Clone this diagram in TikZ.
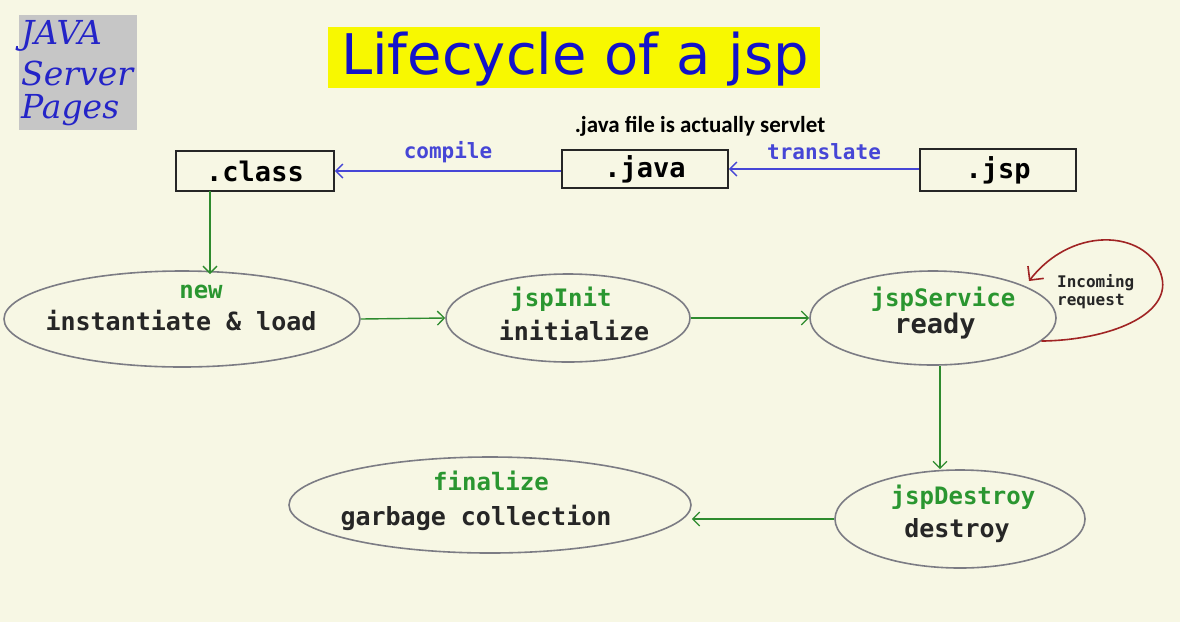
\documentclass[tikz,border=0pt]{standalone}
\usepackage{fontspec}
\setmainfont{DejaVu Sans}
\newfontfamily\monof{DejaVu Sans Mono}
\newfontfamily\calib{Carlito}
\newfontfamily\handf{DejaVu Serif}
\usetikzlibrary{shapes.geometric,arrows.meta}
\definecolor{bgc}{HTML}{F7F7E4}
\definecolor{titleblue}{HTML}{1212C8}
\definecolor{ttl}{HTML}{F8F800}
\definecolor{arrblue}{HTML}{4646D6}
\definecolor{arrgreen}{HTML}{2E8B2E}
\definecolor{txtgreen}{HTML}{2A9630}
\definecolor{ellgray}{HTML}{7C7C84}
\definecolor{loopred}{HTML}{A02424}
\definecolor{jspgray}{HTML}{C6C6C6}
\definecolor{jspblue}{HTML}{2424C8}
\tikzset{
  filebox/.style={draw=black!85, line width=1.6pt, inner sep=0pt, font=\monof\bfseries\fontsize{27}{30}\selectfont},
  stage/.style={ellipse, draw=ellgray, line width=1.6pt, inner sep=0pt},
  mtxt/.style={font=\monof\bfseries\fontsize{25}{28}\selectfont, text=black!85, inner sep=0pt},
  gtxt/.style={font=\monof\bfseries\fontsize{24}{28}\selectfont, text=txtgreen, inner sep=0pt},
  barrow/.style={draw=arrblue, line width=1.6pt, -{Straight Barb[length=7pt,width=14pt,line width=1.4pt]}},
  garrow/.style={draw=arrgreen, line width=1.4pt, -{Straight Barb[length=7pt,width=14pt,line width=1.3pt]}},
  elabel/.style={font=\monof\bfseries\fontsize{21}{24}\selectfont, text=arrblue, inner sep=0pt},
  logotxt/.style={font=\handf\itshape\fontsize{33}{36}\selectfont, text=jspblue, anchor=west, inner sep=0pt},
}
\begin{document}
\begin{tikzpicture}[x=1pt,y=-1pt]
\useasboundingbox (0,0) rectangle (1180,622);
\fill[bgc] (0,0) rectangle (1180,622);

% JAVA Server Pages logo
\fill[jspgray] (19,15) rectangle (137,130);
\node[logotxt] (lj) at (21,36) {JAVA};
\node[logotxt] (ls) at (21,73) {Server};
\node[logotxt] (lp) at (21,110) {Pages};

% title
\fill[ttl] (328,27) rectangle (820,88);
\node[font=\fontsize{56}{60}\selectfont, text=titleblue, inner sep=0pt] (title) at (575,59) {Lifecycle of a jsp};

\node[font=\calib\bfseries\fontsize{23}{26}\selectfont, inner sep=0pt] (note) at (700,126) {.java file is actually servlet};

% file boxes
\node[filebox, minimum width=158pt, minimum height=40pt] (cls) at (255,171) {.class};
\node[filebox, minimum width=166pt, minimum height=38pt] (jav) at (645,169) {.java};
\node[filebox, minimum width=156pt, minimum height=42pt] (jsp) at (998,170) {.jsp};

\draw[barrow] (jsp.west |- jav.east) -- node[elabel, above=8pt] (tl) {translate} (jav.east);
\draw[barrow] (jav.west |- cls.east) -- node[elabel, above=7pt] (cl) {compile} (cls.east);

% stages
\node[stage, minimum width=356pt, minimum height=96pt] (e1) at (182,319) {};
\node[gtxt] (e1a) at (201,292) {new};
\node[mtxt] (e1b) at (181,321) {instantiate \& load};

\node[stage, minimum width=244pt, minimum height=88pt] (e2) at (568,318) {};
\node[gtxt] (e2a) at (561,299) {jspInit};
\node[mtxt] (e2b) at (574,331) {initialize};

\node[stage, minimum width=246pt, minimum height=94pt] (e3) at (933,318) {};
\node[gtxt] (e3a) at (943,299) {jspService};
\node[mtxt, font=\monof\bfseries\fontsize{27}{30}\selectfont] (e3b) at (935,326) {ready};

\node[stage, minimum width=250pt, minimum height=98pt] (e4) at (960,519) {};
\node[gtxt] (e4a) at (963,497) {jspDestroy};
\node[mtxt] (e4b) at (957,531) {destroy};

\node[stage, minimum width=402pt, minimum height=96pt] (e5) at (490,505) {};
\node[gtxt] (e5a) at (491,481) {finalize};
\node[mtxt] (e5b) at (476,518) {garbage collection};

% green arrows
\coordinate (cbot) at (210,191);
\coordinate (e1top) at (210,274);
\draw[garrow] (cbot) -- (e1top);
\draw[garrow] (e1.east) -- (e2.west);
\draw[garrow] (e2.east) -- (e3.west);
\draw[garrow] (e3.south -| 940,0) -- (e4.north -| 940,0);
\draw[garrow] (e4.west) -- (e4.west -| e5.east);

% loop
\coordinate (ls0) at (e3.-12);
\coordinate (ltip) at (1029,281);
\draw[loopred, line width=1.6pt, -{Straight Barb[length=10pt,width=20pt,line width=1.6pt]}]
  (ls0) .. controls (1110,340) and (1170,315) .. (1162,278)
        .. controls (1152,232) and (1075,222) .. (ltip);
\node[font=\monof\bfseries\fontsize{16}{18}\selectfont, text=black!85, align=left, inner sep=0pt, anchor=west] (inc) at (1057,292) {Incoming\\request};
\end{tikzpicture}
\end{document}
